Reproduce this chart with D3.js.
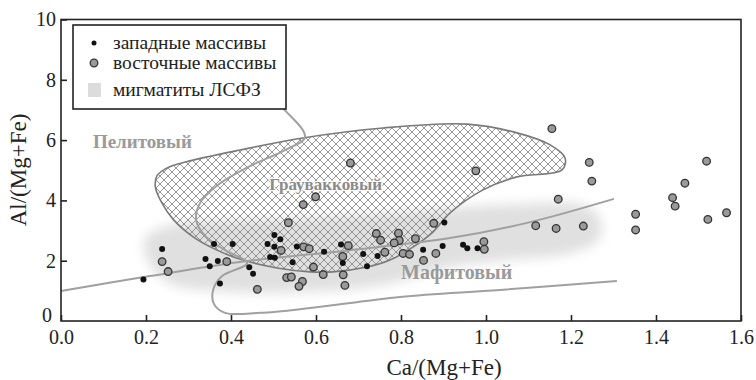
<!DOCTYPE html>
<html>
<head>
<meta charset="utf-8">
<script src="https://cdn.jsdelivr.net/npm/d3@7"></script>
<style>
  body { margin: 0; background: #fff; }
  svg { display: block; }
  svg text { font-family: "Liberation Serif", "DejaVu Serif", "Times New Roman", Times, serif !important; }
</style>
</head>
<body>
<svg id="chart" width="756" height="380"></svg>
<script>
// ---- data ----
var xTicks = [0, 0.2, 0.4, 0.6, 0.8, 1.0, 1.2, 1.4, 1.6]
var yTicks = [0, 2, 4, 6, 8, 10]

// western massifs (black dots)
var westData = [
  [0.194, 1.38], [0.238, 2.39], [0.340, 2.06], [0.350, 1.82], [0.360, 2.55],
  [0.404, 2.55], [0.369, 1.99], [0.443, 1.78], [0.452, 1.57], [0.374, 1.24],
  [0.486, 2.55], [0.502, 2.85], [0.516, 2.71], [0.502, 2.46], [0.492, 2.12],
  [0.503, 2.10], [0.555, 2.47], [0.545, 1.95], [0.619, 2.30], [0.659, 2.54],
  [0.663, 1.92], [0.711, 2.22], [0.720, 1.82], [0.745, 2.16], [0.852, 2.36],
  [0.898, 2.49], [0.902, 3.27], [0.946, 2.53], [0.956, 2.41], [0.980, 2.41]
]

// eastern massifs (grey circles)
var eastData = [
  [0.238, 1.97], [0.252, 1.64], [0.390, 1.97], [0.462, 1.05], [0.518, 2.34],
  [0.571, 2.46], [0.584, 2.40], [0.570, 3.86], [0.599, 4.12], [0.535, 3.26],
  [0.681, 5.24], [0.531, 1.44], [0.542, 1.46], [0.568, 1.31], [0.560, 1.15],
  [0.676, 2.50], [0.663, 2.14], [0.594, 1.79], [0.617, 1.54], [0.664, 1.53],
  [0.668, 1.18], [0.742, 2.90], [0.752, 2.68], [0.762, 2.28], [0.794, 2.91],
  [0.796, 2.67], [0.784, 2.59], [0.834, 2.73], [0.805, 2.24], [0.820, 2.21],
  [0.882, 2.24], [0.853, 2.01], [0.877, 3.24], [0.995, 2.63], [0.996, 2.38],
  [0.976, 4.98], [1.117, 3.16], [1.165, 3.07], [1.229, 3.15], [1.170, 4.04],
  [1.249, 4.64], [1.243, 5.26], [1.155, 6.38], [1.352, 3.54], [1.352, 3.02],
  [1.439, 4.09], [1.445, 3.81], [1.468, 4.57], [1.519, 5.30], [1.522, 3.37],
  [1.566, 3.59]
]

// greywacke field outline (hatched)
var greywackeField = [
  [0.222, 4.45], [0.226, 4.82], [0.250, 5.08], [0.295, 5.28], [0.421, 5.67],
  [0.569, 6.07], [0.758, 6.40], [0.955, 6.53], [1.073, 6.24], [1.151, 5.84],
  [1.186, 5.41], [1.179, 5.01], [1.073, 4.78], [0.993, 4.35], [0.915, 3.58],
  [0.875, 2.95], [0.828, 2.45], [0.774, 2.02], [0.720, 1.79], [0.640, 1.63],
  [0.586, 1.63], [0.508, 1.76], [0.428, 2.02], [0.367, 2.35], [0.311, 2.79],
  [0.264, 3.37], [0.236, 3.95]
]

// pelitic boundary running into the lower mafic boundary
var peliticLine = [
  [0.45, 8.0], [0.522, 7.06], [0.574, 6.10], [0.527, 5.67], [0.445, 5.14],
  [0.369, 4.51], [0.327, 3.91], [0.318, 3.35], [0.339, 2.82], [0.386, 2.35],
  [0.438, 1.92], [0.379, 1.49], [0.358, 1.03], [0.360, 0.56], [0.386, 0.27],
  [0.468, 0.27], [0.586, 0.43], [0.798, 0.80], [1.033, 1.03], [1.308, 1.33]
]

// upper mafic boundary
var maficLine = [
  [0, 0.995], [0.209, 1.49], [0.421, 1.96], [0.680, 2.35], [0.915, 2.75],
  [1.104, 3.28], [1.301, 4.05]
]

// migmatites of the LSFZ (soft grey area)
var migmatiteField = [
  [0.198, 2.75], [0.268, 3.22], [0.398, 3.35], [0.562, 3.42], [0.751, 3.55],
  [0.915, 3.75], [1.080, 3.88], [1.221, 3.88], [1.264, 3.52], [1.268, 2.75],
  [1.209, 2.29], [1.033, 2.0], [0.900, 1.75], [0.760, 1.20], [0.560, 0.95],
  [0.362, 1.0], [0.256, 1.25], [0.205, 1.96]
]

var fieldNames = ["Пелитовый", "Граувакковый", "Мафитовый"]
var legendNames = ["западные массивы", "восточные массивы", "мигматиты ЛСФЗ"]

// ---- drawing ----
var svg = d3.select("#chart")

var x = d3.scaleLinear().domain([0, 1.6]).range([61, 741])
var y = d3.scaleLinear().domain([0, 10]).range([321, 19.5])

var defs = svg.append("defs")

// cross hatch for greywacke field
var pat = defs.append("pattern")
  .attr("id", "hatch")
  .attr("patternUnits", "userSpaceOnUse")
  .attr("width", 8).attr("height", 8)
pat.append("path")
  .attr("d", "M0,0 L8,8 M8,0 L0,8 M-4,4 L4,-4 M4,12 L12,4 M-4,4 L4,12 M4,-4 L12,4")
  .attr("stroke", "#8a8a8a")
  .attr("stroke-width", 0.9)
  .attr("fill", "none")

defs.append("filter")
  .attr("id", "blur")
  .attr("x", "-20%").attr("y", "-30%").attr("width", "140%").attr("height", "160%")
  .append("feGaussianBlur")
  .attr("stdDeviation", 6)

var line = d3.line()
  .x(function(d) { return x(d[0]) })
  .y(function(d) { return y(d[1]) })

var g = svg.append("g")

// migmatite area
g.append("path")
  .attr("d", line.curve(d3.curveCatmullRomClosed)(migmatiteField))
  .attr("fill", "#e0e0e0")
  .attr("filter", "url(#blur)")

// greywacke field
g.append("path")
  .attr("d", line.curve(d3.curveCatmullRomClosed)(greywackeField))
  .attr("fill", "url(#hatch)")
  .attr("stroke", "#7a7a7a")
  .attr("stroke-width", 1.6)

// boundaries
g.append("path")
  .attr("d", line.curve(d3.curveCatmullRom)(peliticLine))
  .attr("fill", "none")
  .attr("stroke", "#a0a0a0")
  .attr("stroke-width", 2)

g.append("path")
  .attr("d", line.curve(d3.curveCatmullRom)(maficLine))
  .attr("fill", "none")
  .attr("stroke", "#a0a0a0")
  .attr("stroke-width", 2)

// field names
var labelPos = [[0.075, 5.74], [0.49, 4.33], [0.80, 1.39]]
var labelSize = [19, 17, 20]
g.selectAll(".field")
  .data(fieldNames)
  .enter().append("text")
  .attr("class", "field")
  .attr("x", function(d, i) { return x(labelPos[i][0]) })
  .attr("y", function(d, i) { return y(labelPos[i][1]) })
  .attr("font-size", function(d, i) { return labelSize[i] })
  .attr("font-weight", "bold")
  .attr("fill", function(d, i) { return i == 1 ? "#8a8a8a" : "#9a9a9a" })
  .attr("stroke", "#fff")
  .attr("stroke-width", function(d, i) { return i == 1 ? 2.5 : 0 })
  .attr("paint-order", "stroke")
  .text(function(d) { return d })

// points
g.selectAll(".east")
  .data(eastData)
  .enter().append("circle")
  .attr("class", "east")
  .attr("cx", function(d) { return x(d[0]) })
  .attr("cy", function(d) { return y(d[1]) })
  .attr("r", 3.8)
  .attr("fill", "#9a9a9a")
  .attr("stroke", "#333")
  .attr("stroke-width", 1.3)

g.selectAll(".west")
  .data(westData)
  .enter().append("circle")
  .attr("class", "west")
  .attr("cx", function(d) { return x(d[0]) })
  .attr("cy", function(d) { return y(d[1]) })
  .attr("r", 3)
  .attr("fill", "#111")

// frame + axes
svg.append("rect")
  .attr("x", x(0)).attr("y", y(10))
  .attr("width", x(1.6) - x(0)).attr("height", y(0) - y(10))
  .attr("fill", "none")
  .attr("stroke", "#222")
  .attr("stroke-width", 1.6)

var xAxis = svg.append("g")
  .attr("transform", "translate(0," + y(0) + ")")
  .call(d3.axisBottom(x).tickValues(xTicks).tickSize(-6).tickPadding(9)
    .tickFormat(d3.format(".1f")))
var yAxis = svg.append("g")
  .attr("transform", "translate(" + x(0) + ",0)")
  .call(d3.axisLeft(y).tickValues(yTicks.slice(1)).tickSize(-6).tickPadding(5))

xAxis.select(".domain").remove()
yAxis.select(".domain").remove()
svg.selectAll(".tick line").attr("stroke", "#222").attr("stroke-width", 1.6)
svg.selectAll(".tick text")
  .attr("font-size", 20)
  .attr("fill", "#222")

// the lone "0" on the y axis sits a bit high and left
svg.append("text")
  .attr("x", 42).attr("y", y(0) + 1)
  .attr("font-size", 20).attr("fill", "#222")
  .text(yTicks[0])

svg.append("text")
  .attr("x", 444).attr("y", 375)
  .attr("text-anchor", "middle")
  .attr("font-size", 23).attr("fill", "#222")
  .text("Ca/(Mg+Fe)")

svg.append("text")
  .attr("transform", "translate(26,170) rotate(-90)")
  .attr("text-anchor", "middle")
  .attr("font-size", 23).attr("fill", "#222")
  .text("Al/(Mg+Fe)")

// legend
var lg = svg.append("g")
lg.append("rect")
  .attr("x", 73).attr("y", 25).attr("width", 213).attr("height", 84)
  .attr("fill", "#fff")
  .attr("stroke", "#222")
  .attr("stroke-width", 1.6)

var item = lg.selectAll(".item")
  .data(legendNames)
  .enter().append("g")
  .attr("class", "item")
  .attr("transform", function(d, i) { return "translate(94," + [43, 63, 90][i] + ")" })

item.append("text")
  .attr("x", 19).attr("dy", "0.33em")
  .attr("font-size", 19.5).attr("fill", "#222")
  .text(function(d) { return d })

item.filter(function(d, i) { return i == 0 }).append("circle")
  .attr("r", 2.5).attr("fill", "#111")
item.filter(function(d, i) { return i == 1 }).append("circle")
  .attr("r", 3.8).attr("fill", "#9a9a9a").attr("stroke", "#333").attr("stroke-width", 1.3)
item.filter(function(d, i) { return i == 2 }).append("rect")
  .attr("x", -6).attr("y", -7).attr("width", 13).attr("height", 14)
  .attr("fill", "#dcdcdc")
</script>
</body>
</html>
